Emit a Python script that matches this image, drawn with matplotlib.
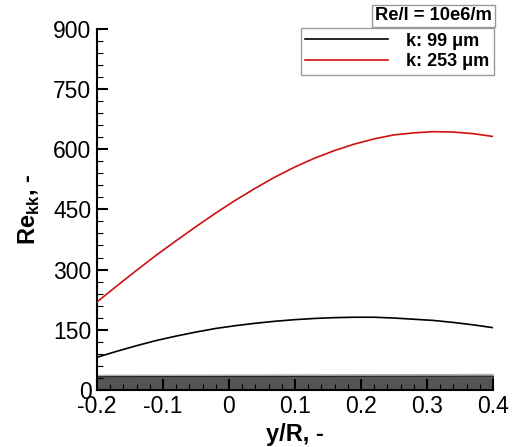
#!/usr/bin/python3
# Re_kk versus y/R for two roughness heights
import numpy as np
import matplotlib
matplotlib.use("Agg")
from matplotlib import pyplot as plt
from matplotlib.ticker import MultipleLocator

# data
y_R = [-0.2, -0.17, -0.14, -0.11, -0.08, -0.05, -0.02, 0.01, 0.04, 0.07, 0.1,
       0.13, 0.16, 0.19, 0.22, 0.25, 0.28, 0.31, 0.34, 0.37, 0.4]
re_k99 = [81, 96, 110, 123, 134, 144, 153, 160, 166, 171, 175,
          178, 180, 181, 181, 179, 176, 173, 168, 162, 155]
re_k253 = [219, 259, 298, 336, 372, 407, 441, 473, 503, 531, 556,
           578, 597, 613, 626, 636, 641, 644, 643, 639, 632]
band_x = [-0.2, 0.4]
band_dark = [34, 35]
band_light = [39, 41]

series_labels = ["k: 99 \u03bcm", "k: 253 \u03bcm"]
legend_title = "Re/l = 10e6/m"


def main():
    plt.rcParams['font.family'] = ['Liberation Sans', 'DejaVu Sans']
    plt.rcParams['mathtext.fontset'] = 'custom'
    plt.rcParams['mathtext.rm'] = 'Liberation Sans:bold'
    plt.rcParams['mathtext.bf'] = 'Liberation Sans:bold'

    fig = plt.figure(figsize=(5.13, 4.47), dpi=100)
    ax = fig.add_axes([0.189, 0.128, 0.772, 0.807])

    # gray band near zero
    ax.fill_between(band_x, band_dark, band_light, color='#b0b0b0', lw=0, zorder=1)
    ax.fill_between(band_x, 0, band_dark, color='#555555', edgecolor='#222222',
                    lw=0.8, zorder=1)

    # curves
    ax.plot(y_R, re_k99, color='black', lw=1.2, label=series_labels[0], zorder=3)
    ax.plot(y_R, re_k253, color='#d01010', lw=1.2, label=series_labels[1], zorder=3)

    ax.set_xlim(-0.2, 0.4)
    ax.set_ylim(0, 900)
    ax.xaxis.set_minor_locator(MultipleLocator(0.02))
    ax.yaxis.set_major_locator(MultipleLocator(150))
    ax.yaxis.set_minor_locator(MultipleLocator(30))
    ax.set_xticks(np.arange(-0.2, 0.41, 0.1))
    ax.set_xticklabels(['-0.2', '-0.1', '0', '0.1', '0.2', '0.3', '0.4'])

    ax.spines['top'].set_visible(False)
    ax.spines['right'].set_visible(False)
    ax.spines['left'].set_linewidth(1.5)
    ax.spines['bottom'].set_linewidth(1.5)
    ax.tick_params(which='major', direction='in', length=8, width=1.5,
                   labelsize=16.5, pad=4)
    ax.tick_params(which='minor', direction='in', length=4, width=0.8)

    ax.set_xlabel("y/R, -", fontsize=17, fontweight='bold', labelpad=3)
    ax.set_ylabel(r"Re$_{\mathbf{kk}}$, -", fontsize=17, fontweight='bold', labelpad=8)

    # legend
    leg = ax.legend(loc='upper right', bbox_to_anchor=(494 / 513, 1 - 28 / 447),
                    bbox_transform=fig.transFigure, borderaxespad=0,
                    fancybox=False, edgecolor='#999999', framealpha=1,
                    handlelength=4.6, handletextpad=1.0, borderpad=0.25,
                    labelspacing=0.2, prop={'weight': 'bold', 'size': 13})
    leg.get_frame().set_linewidth(1.0)

    fig.text(494 / 513 - 0.004, 1 - 16 / 447, legend_title, ha='right', va='center',
             fontsize=13.2, fontweight='bold',
             bbox=dict(boxstyle='square,pad=0.15', fc='white', ec='#999999', lw=1.0))

    fig.savefig("out.png", dpi=100)


if __name__ == '__main__':
    main()
